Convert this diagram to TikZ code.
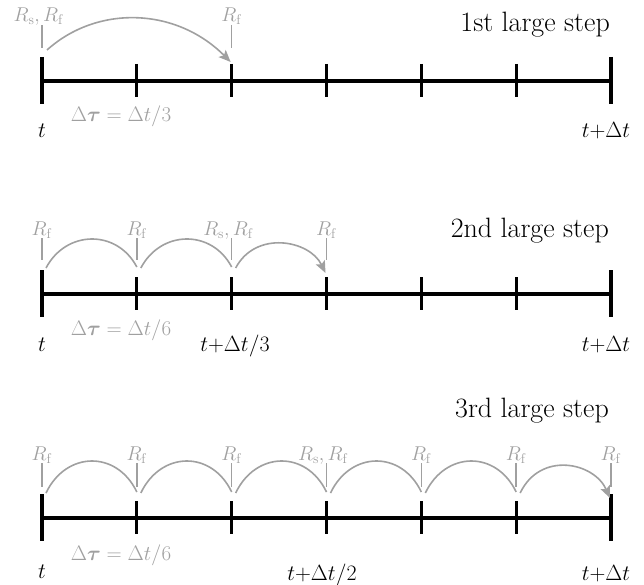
\RequirePackage{fix-cm}
\documentclass[tikz,border=0pt]{standalone}
\usepackage{amsmath}
\usetikzlibrary{arrows.meta,calc}
\definecolor{refgray}{RGB}{160,160,160}
\begin{document}
\begin{tikzpicture}[x=1pt,y=-1pt,
  axis/.style={line width=3.2pt,black},
  gtick/.style={line width=1.6pt,refgray},
  hop/.style={line width=1.6pt,refgray},
  hoparrow/.style={hop,-{Stealth[length=12pt,width=10pt,inset=2.5pt]}},
  rlab/.style={anchor=base,text=refgray,font=\fontsize{20}{22}\selectfont,inner sep=0pt},
  dlab/.style={anchor=base,text=refgray,font=\fontsize{21}{24}\selectfont,inner sep=0pt},
  tlab/.style={anchor=base,text=black,font=\fontsize{22}{24}\selectfont,inner sep=0pt},
  title/.style={anchor=base east,text=black,font=\fontsize{28}{31}\selectfont,inner sep=0pt}]
\useasboundingbox (0,0) rectangle (644,585);
\foreach \i in {0,...,6} {
  \coordinate (a\i) at ({42+\i*94.833},81);
  \coordinate (b\i) at ({42+\i*94.833},294);
  \coordinate (c\i) at ({42+\i*94.833},518);
}
% axes
\foreach \r in {a,b,c} {
  \draw[axis] (\r0) -- (\r6);
  \draw[axis] ($(\r0)+(0,-24)$) -- ($(\r0)+(0,23)$);
  \draw[axis] ($(\r6)+(0,-24)$) -- ($(\r6)+(0,23)$);
  \foreach \i in {1,...,5} {
    \draw[axis] ($(\r\i)+(0,-17)$) -- ($(\r\i)+(0,16)$);
  }
}
% titles
\node[title] (t1) at (610,32) {1st large step};
\node[title] (t2) at (609,237) {2nd large step};
\node[title] (t3) at (609,417) {3rd large step};

% ---- line 1
\foreach \i in {0,2} {\draw[gtick] ($(a\i)+(0,-56)$) -- ($(a\i)+(0,-33)$);}
\node[rlab,anchor=base west] (ra0) at ($(a0)+(1,-59)$) {\llap{$R_{\mathrm{s}},\,$}$R_{\mathrm{f}}$};
\node[rlab] (ra2) at ($(a2)+(0,-59)$) {$R_{\mathrm{f}}$};
\coordinate (as0) at ($(a0)+(5,-31)$);
\coordinate (at2) at ($(a2)+(-1,-19)$);
\draw[hoparrow] (as0) .. controls +(50,-45) and +(-55,-55) .. (at2);
\node[dlab] (da) at (121,122) {$\Delta\boldsymbol{\tau}=\Delta t/3$};
\node[tlab] (ta0) at (42,138) {$t$};
\node[tlab] (ta6) at (606,138) {$t{+}\Delta t$};

% ---- line 2
\foreach \i in {0,...,3} {\draw[gtick] ($(b\i)+(0,-56)$) -- ($(b\i)+(0,-34)$);}
\node[rlab] (rb0) at ($(b0)+(0,-59)$) {$R_{\mathrm{f}}$};
\node[rlab] (rb1) at ($(b1)+(0,-59)$) {$R_{\mathrm{f}}$};
\node[rlab,anchor=base west] (rb2) at ($(b2)+(1,-59)$) {\llap{$R_{\mathrm{s}},\,$}$R_{\mathrm{f}}$};
\node[rlab] (rb3) at ($(b3)+(0,-59)$) {$R_{\mathrm{f}}$};
\foreach \i in {0,1,2} {\coordinate (bs\i) at ($(b\i)+(4,-26)$);}
\foreach \i in {1,2} {\coordinate (be\i) at ($(b\i)+(0,-27)$);}
\coordinate (bt3) at ($(b3)+(-1,-21)$);
\draw[hop] (bs0) .. controls +(20,-38) and +(-20,-38) .. (be1);
\draw[hop] (bs1) .. controls +(20,-38) and +(-20,-38) .. (be2);
\draw[hoparrow] (bs2) .. controls +(20,-38) and +(-16,-33) .. (bt3);
\node[dlab] (db) at (121,335) {$\Delta\boldsymbol{\tau}=\Delta t/6$};
\node[tlab] (tb0) at (42,351) {$t$};
\node[tlab] (tb2) at (235,351) {$t{+}\Delta t/3$};
\node[tlab] (tb6) at (606,351) {$t{+}\Delta t$};

% ---- line 3
\foreach \i in {0,...,6} {\draw[gtick] ($(c\i)+(0,-55)$) -- ($(c\i)+(0,-31)$);}
\foreach \i in {0,1,2,4,5,6} {\node[rlab] (rc\i) at ($(c\i)+(0,-58)$) {$R_{\mathrm{f}}$};}
\node[rlab,anchor=base west] (rc3) at ($(c3)+(1,-58)$) {\llap{$R_{\mathrm{s}},\,$}$R_{\mathrm{f}}$};
\foreach \i in {0,...,5} {\coordinate (cs\i) at ($(c\i)+(4,-25)$);}
\foreach \i in {1,...,5} {\coordinate (ce\i) at ($(c\i)+(0,-26)$);}
\coordinate (ct6) at ($(c6)+(-1,-20)$);
\foreach \i [evaluate=\i as \j using int(\i+1)] in {0,...,4} {
  \draw[hop] (cs\i) .. controls +(20,-42) and +(-20,-42) .. (ce\j);
}
\draw[hoparrow] (cs5) .. controls +(20,-42) and +(-16,-36) .. (ct6);
\node[dlab] (dc) at (121,560) {$\Delta\boldsymbol{\tau}=\Delta t/6$};
\node[tlab] (tc0) at (42,578) {$t$};
\node[tlab] (tc3) at (322,580) {$t{+}\Delta t/2$};
\node[tlab] (tc6) at (606,580) {$t{+}\Delta t$};
\end{tikzpicture}
\end{document}
